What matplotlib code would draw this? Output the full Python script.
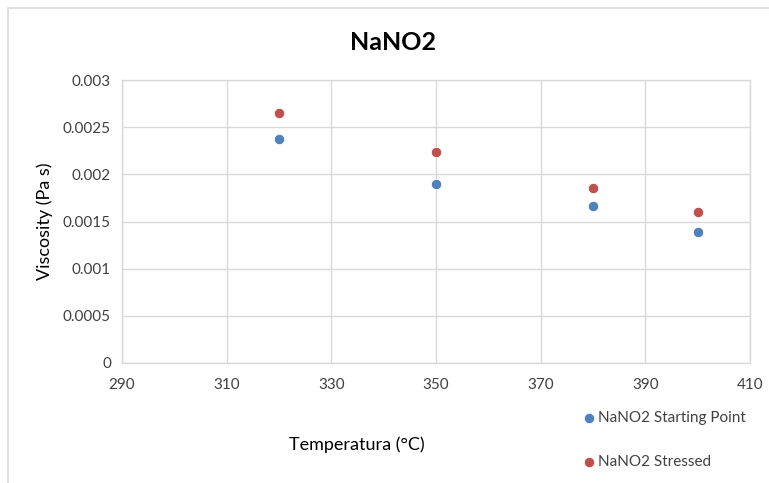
import matplotlib.pyplot as plt
from matplotlib.lines import Line2D

plt.rcParams["font.family"] = ["Lato", "DejaVu Sans"]

# Viscosity of NaNO2 at each test temperature
temperature = [320, 350, 380, 400]
visc_start = [0.00237, 0.00190, 0.001665, 0.001384]
visc_stressed = [0.002645, 0.002233, 0.00185, 0.00160]

x_ticks = [290, 310, 330, 350, 370, 390, 410]
y_ticks = [0, 0.0005, 0.001, 0.0015, 0.002, 0.0025, 0.003]
y_tick_labels = ["0", "0.0005", "0.001", "0.0015", "0.002", "0.0025", "0.003"]

blue = "#4f81bd"
red = "#c0504d"
grid = "#d9d9d9"
text_col = "#404040"

fig = plt.figure(figsize=(7.69, 4.83), dpi=100)
ax = fig.add_axes([122 / 769, 120 / 483, 628 / 769, 283 / 483])

ax.plot(temperature, visc_start, "o", color=blue, ms=7.5, mec="white", mew=0.6, zorder=3)
ax.plot(temperature, visc_stressed, "o", color=red, ms=7.5, mec="white", mew=0.6, zorder=3)

ax.set_xlim(290, 410)
ax.set_ylim(0, 0.003)
ax.set_xticks(x_ticks)
ax.set_yticks(y_ticks)
ax.set_yticklabels(y_tick_labels)
ax.grid(True, color=grid, lw=1)
ax.set_axisbelow(True)
for s in ax.spines.values():
    s.set_color(grid)
    s.set_linewidth(1)
ax.tick_params(length=0, labelsize=11, colors=text_col, pad=8)
ax.tick_params(axis="x", pad=11)

# chart frame (left and top edges)
fig.add_artist(Line2D([8 / 769, 8 / 769], [0, 475 / 483], color="#d9d9d9", lw=1.2))
fig.add_artist(Line2D([8 / 769, 1], [475 / 483, 475 / 483], color="#d9d9d9", lw=1.2))

fig.text(393 / 769, 1 - 43 / 483, "NaNO2", ha="center", va="center",
         fontsize=18, fontweight="bold", color="black")
fig.text(45 / 769, 1 - 221 / 483, "Viscosity (Pa s)", ha="center", va="center",
         rotation=90, fontsize=13, color="black")
fig.text(357 / 769, 1 - 445 / 483, "Temperatura (°C)", ha="center", va="center",
         fontsize=13, color="black")

# legend entries
for y, c, lab in [(418, blue, "NaNO2 Starting Point"), (462, red, "NaNO2 Stressed")]:
    fig.add_artist(Line2D([589 / 769], [1 - y / 483], marker="o", color=c, ms=7.5,
                          mec="white", mew=0.6, ls="none"))
    fig.text(598 / 769, 1 - y / 483, lab, ha="left", va="center", fontsize=11,
             color=text_col)

fig.savefig("out.png", dpi=100)
